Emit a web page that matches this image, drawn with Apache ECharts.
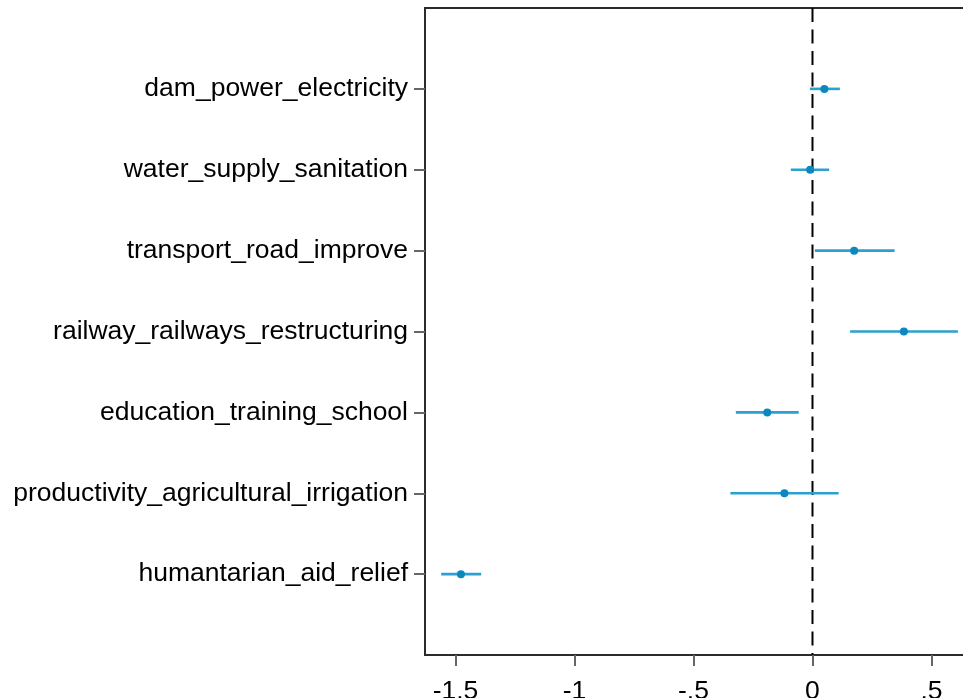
<!DOCTYPE html>
<html>
<head>
<meta charset="utf-8">
<script src="https://cdn.jsdelivr.net/npm/echarts@6/dist/echarts.min.js"></script>
<style>
html,body{margin:0;padding:0;background:#fff;}
#chart{width:963px;height:698px;}
</style>
</head>
<body>
<div id="chart"></div>
<script>
// Categories, top to bottom
var categories = [
  'dam_power_electricity',
  'water_supply_sanitation',
  'transport_road_improve',
  'railway_railways_restructuring',
  'education_training_school',
  'productivity_agricultural_irrigation',
  'humantarian_aid_relief'
];
var estimates = [0.050, -0.010, 0.175, 0.384, -0.190, -0.118, -1.477];
var lowerCI   = [-0.011, -0.091, 0.010, 0.158, -0.322, -0.345, -1.560];
var upperCI   = [0.115, 0.070, 0.345, 0.611, -0.058, 0.110, -1.392];
var xTicks = [-1.5, -1, -0.5, 0, 0.5];
var refLineX = 0;

// padded category list (blank slot at each end)
var yCats = [''].concat(categories).concat(['']);
var seriesData = categories.map(function (c, i) {
  return [lowerCI[i], upperCI[i], estimates[i], i + 1];
});

function fmt(v) {
  var s = String(v);
  return s.replace(/^0\./, '.').replace(/^-0\./, '-.');
}

var FONT = '"Liberation Sans", Arial, sans-serif';
var chart = echarts.init(document.getElementById('chart'), null, {renderer: 'canvas'});
chart.setOption({
  animation: false,
  backgroundColor: '#ffffff',
  grid: {
    left: 425, top: 8, width: 566, height: 647,
    outerBoundsMode: 'none',
    containLabel: false,
    show: true, borderColor: '#2b2b2b', borderWidth: 2
  },
  xAxis: {
    type: 'value',
    min: -1.628, max: 0.75,
    axisLine: {show: true, onZero: false, lineStyle: {color: '#2b2b2b', width: 2}},
    axisTick: {show: true, length: 11, lineStyle: {color: '#666', width: 2}, customValues: xTicks},
    axisLabel: {
      customValues: xTicks,
      formatter: fmt,
      margin: 23,
      fontSize: 26.5,
      color: '#000',
      fontFamily: FONT
    },
    splitLine: {show: false}
  },
  yAxis: {
    type: 'category',
    data: yCats,
    inverse: true,
    boundaryGap: false,
    axisLine: {show: true, onZero: false, lineStyle: {color: '#2b2b2b', width: 2}},
    axisTick: {
      show: true, length: 11, alignWithLabel: true,
      interval: function (idx, val) { return val !== ''; },
      lineStyle: {color: '#666', width: 2}
    },
    axisLabel: {
      interval: 0,
      margin: 17,
      fontSize: 26.5,
      color: '#000',
      fontFamily: FONT
    },
    splitLine: {show: false}
  },
  series: [{
    type: 'line',
    data: [[refLineX, 0], [refLineX, yCats.length - 1]],
    symbol: 'none',
    silent: true,
    lineStyle: {color: '#000', type: [14, 7.5], width: 2},
    z: 3
  }, {
    type: 'custom',
    data: seriesData,
    encode: {x: [0, 1, 2], y: 3},
    renderItem: function (params, api) {
      var yi = api.value(3);
      var p1 = api.coord([api.value(0), yi]);
      var p2 = api.coord([api.value(1), yi]);
      var pc = api.coord([api.value(2), yi]);
      return {
        type: 'group',
        children: [
          {type: 'line', shape: {x1: p1[0], y1: p1[1], x2: p2[0], y2: p2[1]},
           style: {stroke: '#2aa1d1', lineWidth: 2.6}},
          {type: 'circle', shape: {cx: pc[0], cy: pc[1], r: 4}},
        ].map(function (el, k) {
          if (k === 1) el.style = {fill: '#0a88bf'};
          return el;
        })
      };
    },
    z: 5
  }]
});
</script>
</body>
</html>
